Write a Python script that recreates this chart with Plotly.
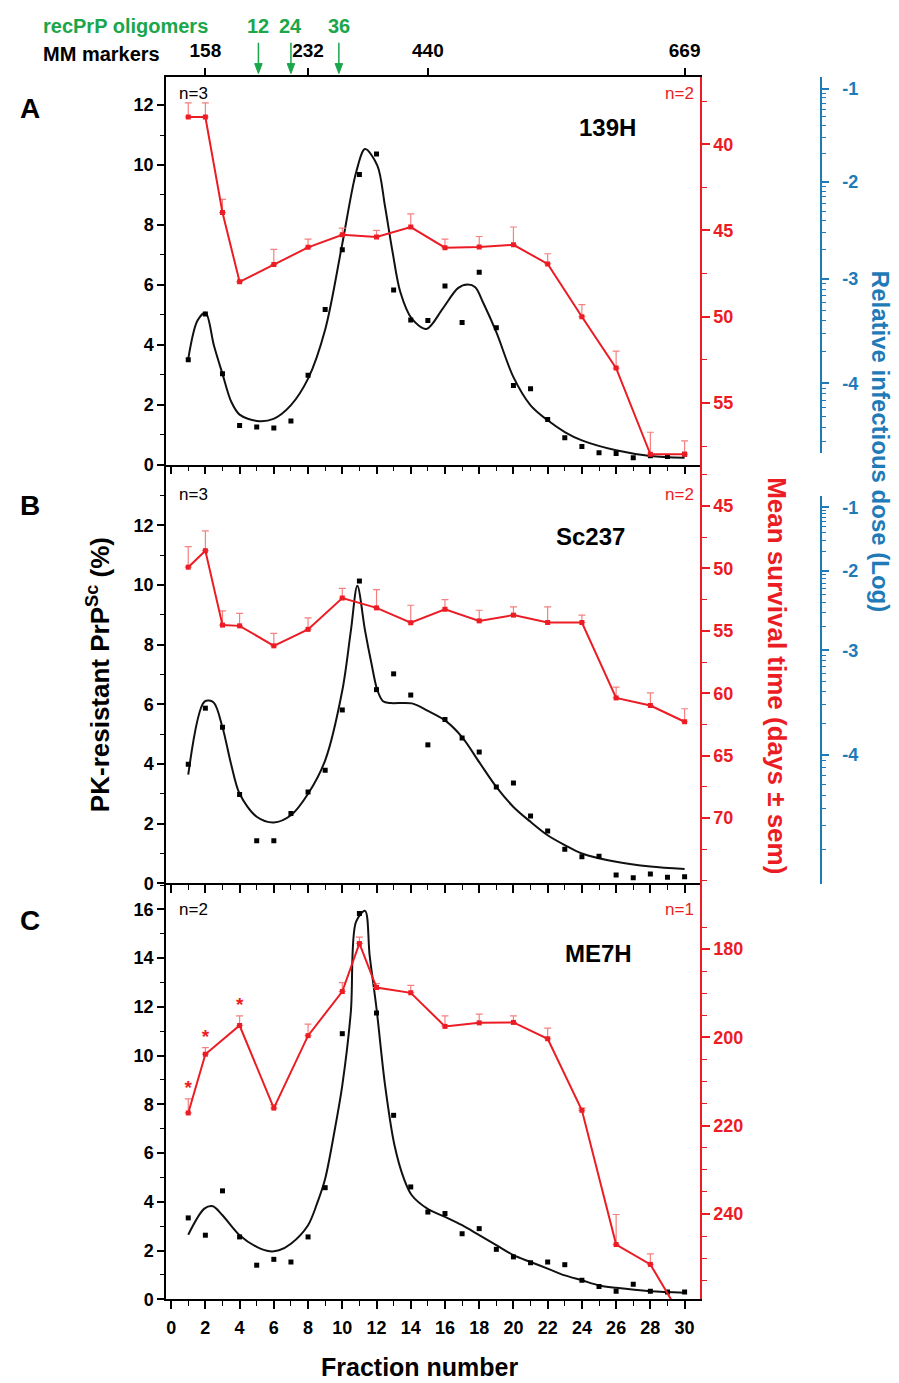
import math
import plotly.graph_objects as go

W, H = 899, 1383
FONT = "Liberation Sans, Arial, Helvetica, sans-serif"
RED = "#ec1c24"
ERR = "#f4807f"
BLUE = "#1f7ab8"
GREEN = "#1aa64a"

# ---------------- data ----------------
fractions = list(range(1, 31))
mst_fr_ab = [1, 2, 3, 4, 6, 8, 10, 12, 14, 16, 18, 20, 22, 24, 26, 28, 30]
mst_fr_c = [1, 2, 4, 6, 8, 10, 11, 12, 14, 16, 18, 20, 22, 24, 26, 28, 30]

# Panel A - 139H
a_prp = [3.50, 5.03, 3.03, 1.31, 1.26, 1.22, 1.46, 2.98, 5.18, 7.17,
         9.68, 10.37, 5.83, 4.83, 4.81, 5.96, 4.74, 6.42, 4.57, 2.64,
         2.53, 1.51, 0.90, 0.61, 0.40, 0.37, 0.23, 0.30, 0.27, 0.35]
a_fit_x = [1.0, 1.54, 2.01, 2.5, 3.0, 3.52, 4.0, 5.02, 5.98, 6.99, 8.0, 9.01,
           9.98, 10.81, 11.33, 12.05, 12.49, 12.94, 13.39, 14.06, 14.92, 15.86,
           16.76, 17.32, 17.77, 18.22, 19.0, 20.0, 21.0, 22.0, 23.0, 24.0, 26.0, 28.0, 30.0]
a_fit_y = [3.53, 4.81, 5.07, 3.98, 3.03, 2.09, 1.67, 1.46, 1.53, 1.98, 2.87, 4.53,
           7.31, 9.76, 10.53, 9.98, 8.64, 7.09, 5.76, 4.87, 4.53, 5.20,
           5.89, 6.01, 5.92, 5.42, 4.42, 2.92, 1.98, 1.48, 1.09, 0.81, 0.48, 0.29, 0.23]
a_mst = [38.42, 38.42, 43.96, 47.98, 46.98, 45.98, 45.25, 45.38, 44.80,
         46.00, 45.96, 45.83, 46.94, 50.00, 52.98, 57.98, 57.98]
a_sem = [0.82, 0.82, 0.76, 0.0, 0.88, 0.48, 0.38, 0.38, 0.76,
         0.50, 0.61, 1.03, 0.59, 0.70, 0.98, 1.28, 0.78]

# Panel B - Sc237
b_prp = [3.99, 5.87, 5.23, 2.98, 1.43, 1.43, 2.34, 3.06, 3.79, 5.81,
         10.13, 6.49, 7.02, 6.31, 4.64, 5.49, 4.87, 4.40, 3.23, 3.36,
         2.26, 1.75, 1.14, 0.89, 0.91, 0.28, 0.19, 0.31, 0.20, 0.22]
b_fit_x = [1.0, 1.95, 2.47, 3.0, 3.5, 4.0, 5.0, 6.0, 7.0, 8.0, 9.0, 10.0, 10.5,
           10.88, 11.33, 11.71, 12.04, 12.38, 12.83, 14.07, 14.97, 16.0, 17.0,
           18.0, 19.0, 20.0, 21.0, 22.0, 23.0, 24.0, 26.0, 28.0, 30.0]
b_fit_y = [3.64, 6.09, 6.07, 5.23, 4.00, 3.00, 2.23, 2.04, 2.28, 3.00, 4.12, 6.46, 8.46,
           9.97, 8.47, 7.35, 6.49, 6.10, 6.04, 6.03, 5.79, 5.46, 4.90,
           4.06, 3.23, 2.56, 2.06, 1.61, 1.28, 1.00, 0.72, 0.56, 0.48]
b_mst = [49.90, 48.58, 54.54, 54.60, 56.20, 54.88, 52.37, 53.16, 54.35,
         53.27, 54.20, 53.74, 54.33, 54.33, 60.37, 60.98, 62.28]
b_sem = [1.64, 1.58, 1.14, 1.00, 1.00, 0.92, 0.77, 1.46, 1.40,
         0.77, 0.85, 0.66, 1.25, 0.59, 0.87, 1.01, 1.04]

# Panel C - ME7H
c_prp = [3.34, 2.63, 4.45, 2.56, 1.40, 1.64, 1.53, 2.56, 4.58, 10.90,
         15.83, 11.75, 7.55, 4.61, 3.58, 3.52, 2.69, 2.90, 2.05, 1.74,
         1.50, 1.53, 1.42, 0.78, 0.53, 0.33, 0.62, 0.33, 0.30, 0.30]
c_fit_x = [1.0, 1.94, 2.44, 3.0, 4.0, 5.0, 5.76, 6.3, 7.0, 8.0, 8.56, 9.0, 9.57,
           10.0, 10.5, 10.8, 11.33, 11.6, 12.0, 12.5, 13.05, 13.6, 14.06, 14.97,
           16.0, 17.0, 18.0, 19.0, 20.0, 21.0, 22.0, 23.0, 24.0, 25.0, 26.0, 28.0, 30.0]
c_fit_y = [2.65, 3.72, 3.82, 3.45, 2.63, 2.15, 1.97, 2.01, 2.28, 3.04, 4.00, 4.95, 7.00,
           8.78, 11.80, 15.49, 15.94, 14.10, 11.93, 8.78, 6.32, 4.95, 4.27, 3.72,
           3.38, 3.04, 2.63, 2.22, 1.81, 1.53, 1.26, 0.98, 0.78, 0.57, 0.47, 0.33, 0.27]
c_mst = [217.1, 203.8, 197.3, 216.0, 199.6, 189.6, 178.7, 188.7, 189.9,
         197.5, 196.7, 196.6, 200.3, 216.5, 246.9, 251.4, 264.5]
c_sem = [3.2, 1.5, 2.2, 0.8, 2.6, 2.0, 1.4, 0.9, 1.7,
         2.4, 2.0, 1.5, 2.4, 0.5, 6.8, 2.4, 0.0]
c_star_fr = [1, 2, 4]

# Top axis: molecular mass markers and recPrP oligomers
mm_fraction = [2, 8, 15, 30]
mm_labels = ["158", "232", "440", "669"]
olig_fraction = [5.1, 7.0, 9.8]
olig_labels = ["12", "24", "36"]

# Relative infectious dose (log) axis: survival-time equivalents of each decade
dose_labels = ["-1", "-2", "-3", "-4"]
a_dose_days = [36.8, 42.2, 47.86, 53.93, 60.4]
b_dose_days = [45.1, 50.19, 56.55, 64.9, 75.8]

# ---------------- geometry helpers ----------------
def px(x):
    return x / W


def py(y):
    return 1 - y / H


XDOM = [px(158), px(692)]
XR = [-0.3, 30.9]
DOM_A = [py(460), py(70)]
DOM_B = [py(881.7), py(460)]
DOM_C = [py(1300.7), py(881.7)]


def log_minor(decades, lo, hi):
    vals = []
    for d0, d1 in zip(decades[:-1], decades[1:]):
        for m in range(9, 1, -1):
            v = d0 + math.log10(10 / m) * (d1 - d0)
            if lo <= v <= hi:
                vals.append(v)
    return vals


fig = go.Figure()

panels = [
    ("x", "y", "y2", a_prp, a_fit_x, a_fit_y, mst_fr_ab, a_mst, a_sem),
    ("x2", "y3", "y4", b_prp, b_fit_x, b_fit_y, mst_fr_ab, b_mst, b_sem),
    ("x3", "y5", "y6", c_prp, c_fit_x, c_fit_y, mst_fr_c, c_mst, c_sem),
]
for xa, ya, yr, prp, fx, fy, mfr, mst, sem in panels:
    fig.add_trace(go.Scatter(x=fx, y=fy, mode="lines", xaxis=xa, yaxis=ya,
                             line=dict(color="#111111", width=2, shape="spline", smoothing=0.9),
                             hoverinfo="skip"))
    fig.add_trace(go.Scatter(x=fractions, y=prp, mode="markers", xaxis=xa, yaxis=ya,
                             marker=dict(symbol="square", size=5, color="black")))
    fig.add_trace(go.Scatter(x=mfr, y=mst, mode="lines+markers", xaxis=xa, yaxis=yr,
                             line=dict(color=RED, width=2),
                             marker=dict(symbol="square", size=5, color=RED),
                             error_y=dict(type="data", symmetric=False,
                                          array=[0] * len(sem), arrayminus=sem,
                                          color=ERR, thickness=1.2, width=3.5)))

# asterisks above selected ME7H error bars
star_y = [c_mst[mst_fr_c.index(f)] - c_sem[mst_fr_c.index(f)] for f in c_star_fr]
fig.add_trace(go.Scatter(x=c_star_fr, y=star_y, mode="text", text=["*"] * len(c_star_fr),
                         textposition="top center", xaxis="x3", yaxis="y6",
                         textfont=dict(color=RED, size=19, family=FONT, weight="bold")))

# invisible traces hosting the top (MM markers) axis and the dose axes
fig.add_trace(go.Scatter(x=[None], y=[None], xaxis="x4", yaxis="y", hoverinfo="skip"))
fig.add_trace(go.Scatter(x=[None], y=[None], xaxis="x", yaxis="y7", hoverinfo="skip"))
fig.add_trace(go.Scatter(x=[None], y=[None], xaxis="x", yaxis="y8", hoverinfo="skip"))

TICK = 18
tickfont = dict(family=FONT, size=TICK, color="black", weight="bold")
redfont = dict(family=FONT, size=TICK, color=RED, weight="bold")
bluefont = dict(family=FONT, size=TICK, color=BLUE, weight="bold")


def xaxis(anchor, labels):
    return dict(domain=XDOM, range=XR, anchor=anchor, showline=True, linecolor="black",
                linewidth=1.5, ticks="outside", ticklen=8, tickwidth=1.5, tickcolor="black",
                tickmode="linear", tick0=0, dtick=2, showticklabels=labels,
                tickfont=tickfont, ticklabelstandoff=3,
                minor=dict(ticks="outside", ticklen=5, tickwidth=1.2, tickcolor="black", dtick=1, tick0=0),
                showgrid=False, zeroline=False)


def leftaxis(anchor, dom, rng, top):
    return dict(domain=dom, range=rng, anchor=anchor, side="left", showline=True,
                linecolor="black", linewidth=1.5, ticks="outside", ticklen=7, tickwidth=1.5,
                tickcolor="black", tickvals=list(range(0, top + 1, 2)), tickfont=tickfont,
                minor=dict(ticks="outside", ticklen=4, tickwidth=1.2, tickcolor="black", dtick=1, tick0=0),
                showgrid=False, zeroline=False)


def redaxis(anchor, overlay, rng, major, minor):
    return dict(overlaying=overlay, anchor=anchor, side="right", range=rng, showline=True,
                linecolor=RED, linewidth=1.5, ticks="outside", ticklen=8, tickwidth=1.5,
                tickcolor=RED, tickvals=major, tickfont=redfont,
                minor=dict(ticks="outside", ticklen=5, tickwidth=1.2, tickcolor=RED, tickvals=minor),
                showgrid=False, zeroline=False)


def doseaxis(dom, rng, decades):
    return dict(domain=dom, range=rng, anchor="free", position=px(813), side="right",
                showline=True, linecolor=BLUE, linewidth=1.5, ticks="outside", ticklen=7,
                tickwidth=1.5, tickcolor=BLUE, tickvals=decades[:4], ticktext=dose_labels,
                tickfont=bluefont, ticklabelstandoff=10,
                minor=dict(ticks="outside", ticklen=4, tickwidth=1, tickcolor=BLUE,
                           tickvals=log_minor(decades, min(rng), max(rng))),
                showgrid=False, zeroline=False)


a_red_rng = [58.58, 36.13]
b_red_rng = [75.22, 41.69]
c_red_rng = [259.3, 165.1]

# green arrows (shapes) for recPrP oligomer elution positions
shapes = []
for f in olig_fraction:
    shapes.append(dict(type="line", xref="x", yref="paper", x0=f, x1=f,
                       y0=py(35), y1=py(60), line=dict(color=GREEN, width=1.5)))
    shapes.append(dict(type="path", xref="x", yref="paper",
                       path=f"M {f - 0.22},{py(56)} L {f + 0.22},{py(56)} L {f},{py(66)} Z",
                       fillcolor=GREEN, line=dict(color=GREEN, width=1)))

fig.update_layout(
    width=W, height=H, margin=dict(l=0, r=0, t=0, b=0),
    paper_bgcolor="white", plot_bgcolor="rgba(0,0,0,0)", showlegend=False,
    font=dict(family=FONT, color="black"),
    shapes=shapes,
    xaxis=xaxis("y", False),
    xaxis2=xaxis("y3", False),
    xaxis3=xaxis("y5", True),
    xaxis4=dict(overlaying="x", side="top", anchor="y", range=XR, showline=True,
                linecolor="black", linewidth=1.5, ticks="outside", ticklen=8, tickwidth=1.5,
                tickcolor="black", tickvals=mm_fraction, ticktext=mm_labels,
                tickfont=dict(family=FONT, size=19, color="black", weight="bold"),
                ticklabelstandoff=3, showgrid=False, zeroline=False),
    yaxis=leftaxis("x", DOM_A, [0, 12.92], 12),
    yaxis2=redaxis("x", "y", a_red_rng, [40, 45, 50, 55],
                   [37.5, 42.5, 47.5, 52.5, 57.5]),
    yaxis3=leftaxis("x2", DOM_B, [0, 14.03], 12),
    yaxis4=redaxis("x2", "y3", b_red_rng, [45, 50, 55, 60, 65, 70],
                   [42.5, 47.5, 52.5, 57.5, 62.5, 67.5, 72.5, 75]),
    yaxis5=leftaxis("x3", DOM_C, [0, 17.07], 16),
    yaxis6=redaxis("x3", "y5", c_red_rng, [180, 200, 220, 240],
                   [175, 185, 190, 195, 205, 210, 215, 225, 230, 235, 245, 250, 255]),
    yaxis7=doseaxis([py(448), py(70)], [57.98, 36.13], a_dose_days),
    yaxis8=doseaxis([py(882), py(492)], [75.24, 44.23], b_dose_days),
)

ann = []


def text(x, y, s, size, color="black", bold=True, xanchor="center", angle=0):
    ann.append(dict(x=px(x), y=py(y), xref="paper", yref="paper", text=s, showarrow=False,
                    xanchor=xanchor, yanchor="middle", textangle=angle,
                    font=dict(family=FONT, size=size, color=color,
                              weight="bold" if bold else "normal")))


# panel letters
text(22, 101, "A", 28)
text(22, 501, "B", 28)
text(22, 919, "C", 28)
# strain names
text(599, 120, "139H", 24)
text(582, 532, "Sc237", 24)
text(590, 952, "ME7H", 24)
# n labels
text(169, 86, "n=3", 17, bold=False, xanchor="left")
text(688, 86, "n=2", 17, color=RED, bold=False, xanchor="right")
text(169, 490, "n=3", 17, bold=False, xanchor="left")
text(688, 490, "n=2", 17, color=RED, bold=False, xanchor="right")
text(169, 908, "n=2", 17, bold=False, xanchor="left")
text(688, 908, "n=1", 17, color=RED, bold=False, xanchor="right")
# top labels
text(33, 46, "MM markers", 20, xanchor="left")
text(33, 18, "recPrP oligomers", 20, color=GREEN, xanchor="left")
for f, lab in zip(olig_fraction, olig_labels):
    ann.append(dict(x=f, y=py(18), xref="x", yref="paper", text=lab, showarrow=False,
                    xanchor="center", yanchor="middle",
                    font=dict(family=FONT, size=20, color=GREEN, weight="bold")))
# axis titles
text(90, 672, "PK-resistant PrP<sup>Sc</sup> (%)", 26, angle=-90)
text(769, 672, "Mean survival time (days ± sem)", 26, color=RED, angle=90)
text(872, 436, "Relative infectious dose (Log)", 24, color=BLUE, angle=90)
text(412, 1369, "Fraction number", 25)

fig.update_layout(annotations=ann)
fig.write_html("out.html")
